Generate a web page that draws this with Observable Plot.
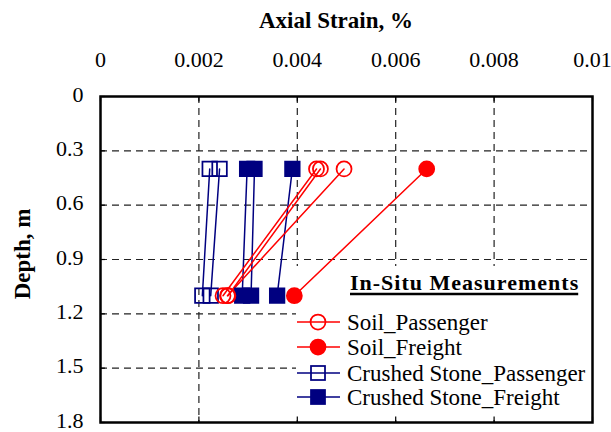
<!DOCTYPE html>
<html><head><meta charset="utf-8">
<script src="https://cdn.jsdelivr.net/npm/d3@7"></script>
<script src="https://cdn.jsdelivr.net/npm/@observablehq/plot@0.6"></script>
<style>
html,body{margin:0;padding:0;background:#fff;}
#chart{width:611px;height:432px;position:relative;}
</style></head><body><div id="chart"></div>
<script>
// ---- data ----
const depths = [0.4, 1.1];
// each run: [strain at 0.4 m, strain at 1.1 m]
const soilPassenger = [[0.00439, 0.00249], [0.00447, 0.00259], [0.00495, 0.00258]];
const soilFreight = [[0.00663, 0.00394]];
const stonePassenger = [[0.00222, 0.00207], [0.00242, 0.00224]];
const stoneFreight = [[0.00298, 0.00288], [0.00313, 0.00306], [0.00390, 0.00359]];
const seriesNames = ["Soil_Passenger", "Soil_Freight", "Crushed Stone_Passenger", "Crushed Stone_Freight"];
const xTicks = [0, 0.002, 0.004, 0.006, 0.008, 0.01];
const yTicks = [0, 0.3, 0.6, 0.9, 1.2, 1.5, 1.8];
const xTitle = "Axial Strain, %";
const yTitle = "Depth, m";
const legendTitle = "In-Situ Measurements";

const seriesRuns = [soilPassenger, soilFreight, stonePassenger, stoneFreight];
const seriesColor = ["#ff0000", "#ff0000", "#000080", "#000080"];
const seriesSymbol = ["circle", "circle", "square", "square"];
const seriesFilled = [false, true, false, true];

const rows = [];
seriesRuns.forEach((runs, si) => runs.forEach((run, ri) => run.forEach((s, di) =>
  rows.push({series: seriesNames[si], si, run: seriesNames[si] + ri, depth: depths[di], strain: s}))));

const FONT = "Liberation Serif";
const fmt = d => d === 0 ? "0" : String(+d.toFixed(3));

function measure(text, font) {
  const c = document.createElement("canvas").getContext("2d");
  c.font = font;
  return c.measureText(text).width;
}

function titlesMark() {
  const g = d3.create("svg:g").attr("font-family", FONT).attr("font-weight", "bold").attr("fill", "black");
  g.append("text").attr("x", 336).attr("y", 28).attr("text-anchor", "middle").attr("font-size", 23).text(xTitle);
  g.append("text").attr("transform", "translate(30,254) rotate(-90)").attr("text-anchor", "middle").attr("font-size", 23).text(yTitle);
  return g.node();
}

function legendMark() {
  const g = d3.create("svg:g").attr("font-family", FONT).attr("fill", "black").attr("text-anchor", "start");
  g.append("rect").attr("x", 296).attr("y", 266).attr("width", 294).attr("height", 150).attr("fill", "white");
  const titleFont = 22, spacing = 1;
  const tw = measure(legendTitle, `bold ${titleFont}px "${FONT}"`) + spacing * (legendTitle.length - 1);
  g.append("text").attr("x", 350).attr("y", 290).attr("font-size", titleFont).attr("font-weight", "bold")
    .attr("letter-spacing", spacing).text(legendTitle);
  g.append("line").attr("x1", 350).attr("x2", 350 + tw).attr("y1", 294).attr("y2", 294).attr("stroke", "black").attr("stroke-width", 2.5);
  const rowY = [322, 347, 373, 397];
  seriesNames.forEach((name, i) => {
    const y = rowY[i];
    g.append("line").attr("x1", 297).attr("x2", 340).attr("y1", y).attr("y2", y)
      .attr("stroke", seriesColor[i]).attr("stroke-width", 1.5);
    if (seriesSymbol[i] === "circle") {
      g.append("circle").attr("cx", 318).attr("cy", y).attr("r", 7.5)
        .attr("fill", seriesFilled[i] ? seriesColor[i] : "none").attr("stroke", seriesColor[i]).attr("stroke-width", 1.75);
    } else {
      g.append("rect").attr("x", 318 - 7).attr("y", y - 7).attr("width", 14).attr("height", 14)
        .attr("fill", seriesFilled[i] ? seriesColor[i] : "none").attr("stroke", seriesColor[i]).attr("stroke-width", 1.75);
    }
    g.append("text").attr("x", 347).attr("y", y).attr("dy", "0.33em").attr("font-size", 23).text(name);
  });
  return g.node();
}

const dataMarks = [];
// draw blue first, red on top
[2, 3, 0, 1].forEach(si => {
  const d = rows.filter(r => r.si === si);
  dataMarks.push(Plot.line(d, {x: "strain", y: "depth", z: "run", stroke: seriesColor[si], strokeWidth: 1.5}));
});
[2, 3, 0, 1].forEach(si => {
  const d = rows.filter(r => r.si === si);
  dataMarks.push(Plot.dot(d, {x: "strain", y: "depth", symbol: seriesSymbol[si],
    r: seriesSymbol[si] === "circle" ? 7.5 : 8.2,
    fill: seriesFilled[si] ? seriesColor[si] : "none", stroke: seriesColor[si], strokeWidth: 1.75}));
});

const gridStyle = {stroke: "#222", strokeDasharray: "7,5", strokeWidth: 1.2, strokeOpacity: 1};

const chart = Plot.plot({
  width: 611, height: 432,
  marginLeft: 100, marginRight: 19, marginTop: 96, marginBottom: 10,
  style: {fontFamily: FONT, fontSize: "22px", color: "black", background: "white"},
  x: {domain: [0, 0.01]},
  y: {domain: [0, 1.8], reverse: true},
  marks: [
    Plot.ruleX(xTicks.slice(1, -1), {...gridStyle}),
    Plot.ruleY(yTicks.slice(1, -1), {...gridStyle}),
    Plot.ruleX(xTicks, {y1: 0, y2: 0.03, stroke: "black", strokeWidth: 1.2}),
    Plot.ruleX(xTicks, {y1: 1.77, y2: 1.8, stroke: "black", strokeWidth: 1.2}),
    Plot.ruleY(yTicks, {x1: 0, x2: 0.0001, stroke: "black", strokeWidth: 1.2}),
    Plot.axisX(xTicks, {anchor: "top", tickSize: 0, tickPadding: 30, tickFormat: fmt, label: null, fontSize: 22}),
    Plot.axisY(yTicks, {anchor: "left", tickSize: 0, tickPadding: 17, tickFormat: fmt, label: null, fontSize: 22, dy: -2}),
    legendMark,
    ...dataMarks,
    Plot.frame({stroke: "black", strokeWidth: 2.5}),
    titlesMark
  ]
});
document.getElementById("chart").appendChild(chart);
</script>
</body></html>
